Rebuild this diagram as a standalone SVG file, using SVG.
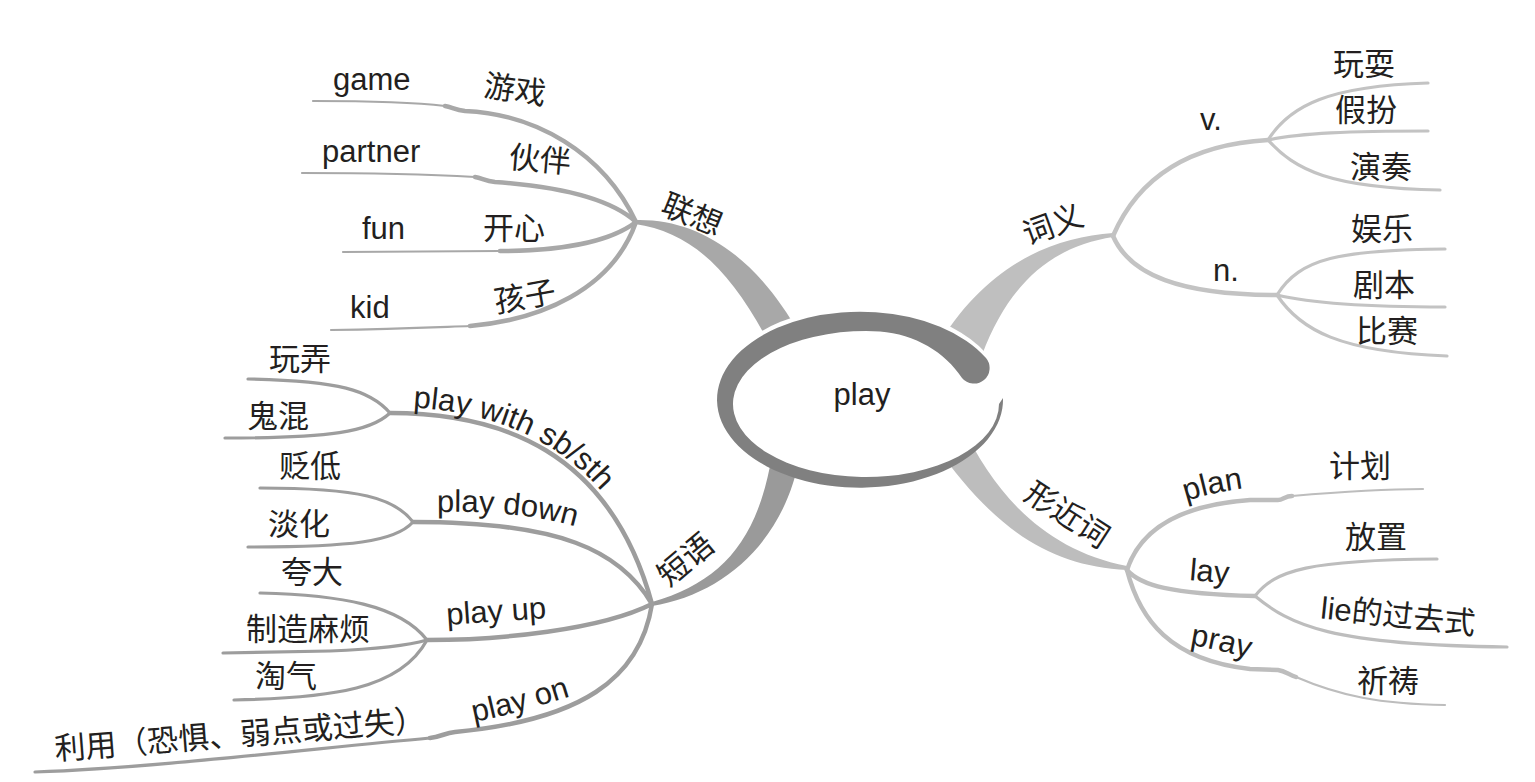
<svg xmlns="http://www.w3.org/2000/svg" width="1535" height="782" viewBox="0 0 1535 782">
<style>
.t{font-family:"Liberation Sans","Noto Sans CJK SC",sans-serif;font-size:31px;fill:#231f20}
.m{text-anchor:middle;dominant-baseline:central}
.ln{fill:none;stroke-linecap:round;stroke-linejoin:round}
.a{stroke:#a8a8a8}
.b{stroke:#c3c3c3}
.c{stroke:#9d9d9d}
.d{stroke:#bdbdbd}
.w5{stroke-width:4.5}
.w3{stroke-width:3.2}
.w2{stroke-width:2.2}
</style>
<defs>
<path id="tp1" d="M 390 407 C 500 407, 616 448, 658 603"/>
<path id="tp2" d="M 437 512 C 500 511, 552 516, 600 535"/>
<path id="tp3" d="M 474 722 C 505 716, 540 706, 578 694"/>
<path id="tp4" d="M 1186 501 C 1205 495, 1228 490, 1254 487"/>
<path id="tp5" d="M 1190 645 C 1210 648, 1235 654, 1264 663"/>
</defs>
<rect width="1535" height="782" fill="#fff"/>
<g id="connectors">
<!-- main branches -->
<path fill="#a8a8a8" d="M 635 220 C 700 218, 757 258, 800 335 L 770 345 C 730 268, 690 232, 635 224 Z"/>
<path fill="#bfbfbf" d="M 935 350 C 985 265, 1050 238, 1113 233 L 1113 237 C 1055 246, 1010 280, 982 355 Z"/>
<path fill="#9a9a9a" d="M 652 602 C 722 582, 758 540, 772 455 L 800 455 C 785 540, 725 594, 652 606 Z"/>
<path fill="#bdbdbd" d="M 962 425 C 995 495, 1045 550, 1127 566 L 1127 570 C 1050 566, 995 530, 935 445 Z"/>
<!-- 联想 -->
<path class="ln a w2" d="M 313 101 C 380 101, 420 103, 445 106"/>
<path class="ln a w5" d="M 445 106 C 452 107, 455 110, 465 111 C 535 114, 603 152, 636 222"/>
<path class="ln a w2" d="M 302 173 C 380 173, 440 175, 475 177"/>
<path class="ln a w5" d="M 475 177 C 482 178, 485 181, 495 182 C 565 187, 612 200, 636 222"/>
<path class="ln a w2" d="M 343 252 L 500 251"/>
<path class="ln a w5" d="M 500 251 C 560 251, 610 242, 636 222"/>
<path class="ln a w2" d="M 331 330 C 400 329, 440 327, 470 326"/>
<path class="ln a w5" d="M 470 326 C 540 320, 612 290, 636 222"/>
<!-- 词义 -->
<path class="ln b w5" d="M 1113 236 C 1135 185, 1180 145, 1268 140"/>
<path class="ln b w3" d="M 1268 140 C 1290 105, 1330 86, 1428 83"/>
<path class="ln b w3" d="M 1268 140 C 1300 133, 1350 131, 1428 131"/>
<path class="ln b w3" d="M 1268 140 C 1295 170, 1330 188, 1440 190"/>
<path class="ln b w5" d="M 1113 236 C 1130 275, 1180 295, 1277 295"/>
<path class="ln b w3" d="M 1277 295 C 1300 258, 1340 250, 1445 249"/>
<path class="ln b w3" d="M 1277 295 C 1310 303, 1360 307, 1445 307"/>
<path class="ln b w3" d="M 1277 295 C 1300 330, 1340 352, 1447 356"/>
<!-- 短语 -->
<path class="ln c w5" d="M 652 604 C 610 450, 500 413, 390 413"/>
<path class="ln c w3" d="M 390 413 C 370 390, 340 381, 248 379"/>
<path class="ln c w3" d="M 390 413 C 370 432, 330 438, 225 438"/>
<path class="ln c w5" d="M 652 604 C 620 550, 560 522, 413 522"/>
<path class="ln c w3" d="M 413 522 C 395 498, 360 488, 260 488"/>
<path class="ln c w3" d="M 413 522 C 395 542, 350 547, 248 547"/>
<path class="ln c w5" d="M 652 604 C 600 630, 500 640, 427 640"/>
<path class="ln c w3" d="M 427 640 C 400 605, 340 595, 260 593"/>
<path class="ln c w3" d="M 427 640 C 410 645, 380 649, 330 651 L 223 653"/>
<path class="ln c w3" d="M 427 640 C 400 690, 330 698, 234 700"/>
<path class="ln c w5" d="M 652 604 C 640 680, 580 720, 455 732 C 445 733, 440 737, 430 738"/>
<path class="ln c w3" d="M 430 738 C 300 750, 150 768, 35 772"/>
<!-- 形近词 -->
<path class="ln d w5" d="M 1127 570 C 1140 530, 1180 505, 1250 500 L 1278 500 C 1283 500, 1285 496, 1292 496"/>
<path class="ln d w2" d="M 1292 496 C 1350 491, 1390 489, 1423 489"/>
<path class="ln d w5" d="M 1127 570 C 1140 585, 1170 594, 1255 596"/>
<path class="ln d w3" d="M 1255 596 C 1275 570, 1310 560, 1437 559"/>
<path class="ln d w3" d="M 1255 596 C 1290 625, 1330 645, 1507 647"/>
<path class="ln d w5" d="M 1127 570 C 1140 620, 1170 660, 1250 669 L 1278 670 C 1285 671, 1288 674, 1296 677"/>
<path class="ln d w2" d="M 1296 677 C 1340 696, 1380 704, 1445 705"/>
</g>
<g id="center">
<ellipse cx="860" cy="395" rx="143" ry="88" fill="#fff"/>
<path fill="#808080" d="M 986 358 A 143 88 0 1 0 1003 398 L 999 404 A 133 73 0 1 1 880 331.4 C 915 334, 945 352, 962 378 A 15.6 15.6 0 0 0 986 358 Z"/>
<text class="t" x="862" y="405" text-anchor="middle">play</text>
</g>
<g id="n-lianxiang">
<text class="t m" transform="translate(692,215) rotate(22)">联想</text>
<text class="t" x="333" y="90">game</text>
<text class="t m" transform="translate(515,90) rotate(8)">游戏</text>
<text class="t" x="322" y="162">partner</text>
<text class="t m" transform="translate(540,160) rotate(5)">伙伴</text>
<text class="t" x="362" y="239">fun</text>
<text class="t m" x="514" y="228">开心</text>
<text class="t" x="350" y="318">kid</text>
<text class="t m" transform="translate(525,297) rotate(-10)">孩子</text>
</g>
<g id="n-ciyi">
<text class="t m" transform="translate(1053,225) rotate(-20)">词义</text>
<text class="t" x="1200" y="130">v.</text>
<text class="t m" x="1364" y="64">玩耍</text>
<text class="t m" x="1366" y="110">假扮</text>
<text class="t m" x="1381" y="167">演奏</text>
<text class="t" x="1213" y="281">n.</text>
<text class="t m" x="1382" y="229">娱乐</text>
<text class="t m" x="1384" y="285">剧本</text>
<text class="t m" x="1387" y="331">比赛</text>
</g>
<g id="n-duanyu">
<text class="t m" transform="translate(686,560) rotate(-40)">短语</text>
<text class="t"><textPath href="#tp1" startOffset="23">play with sb/sth</textPath></text>
<text class="t m" x="300" y="359">玩弄</text>
<text class="t m" x="278" y="416">鬼混</text>
<text class="t"><textPath href="#tp2">play down</textPath></text>
<text class="t m" x="310" y="466">贬低</text>
<text class="t m" x="299" y="524">淡化</text>
<text class="t" transform="translate(447,625) rotate(-4)">play up</text>
<text class="t m" x="312" y="572">夸大</text>
<text class="t m" x="308" y="629">制造麻烦</text>
<text class="t m" x="286" y="676">淘气</text>
<text class="t"><textPath href="#tp3">play on</textPath></text>
<text class="t m" transform="translate(240,735) rotate(-4.5)">利用（恐惧、弱点或过失）</text>
</g>
<g id="n-xingjinci">
<text class="t m" transform="translate(1067,515) rotate(33)">形近词</text>
<text class="t"><textPath href="#tp4">plan</textPath></text>
<text class="t m" x="1360" y="466">计划</text>
<text class="t" transform="translate(1189,580) rotate(5)">lay</text>
<text class="t m" x="1376" y="537">放置</text>
<text class="t m" transform="translate(1398,616) rotate(6)">lie的过去式</text>
<text class="t"><textPath href="#tp5">pray</textPath></text>
<text class="t m" x="1388" y="681">祈祷</text>
</g>
</svg>
